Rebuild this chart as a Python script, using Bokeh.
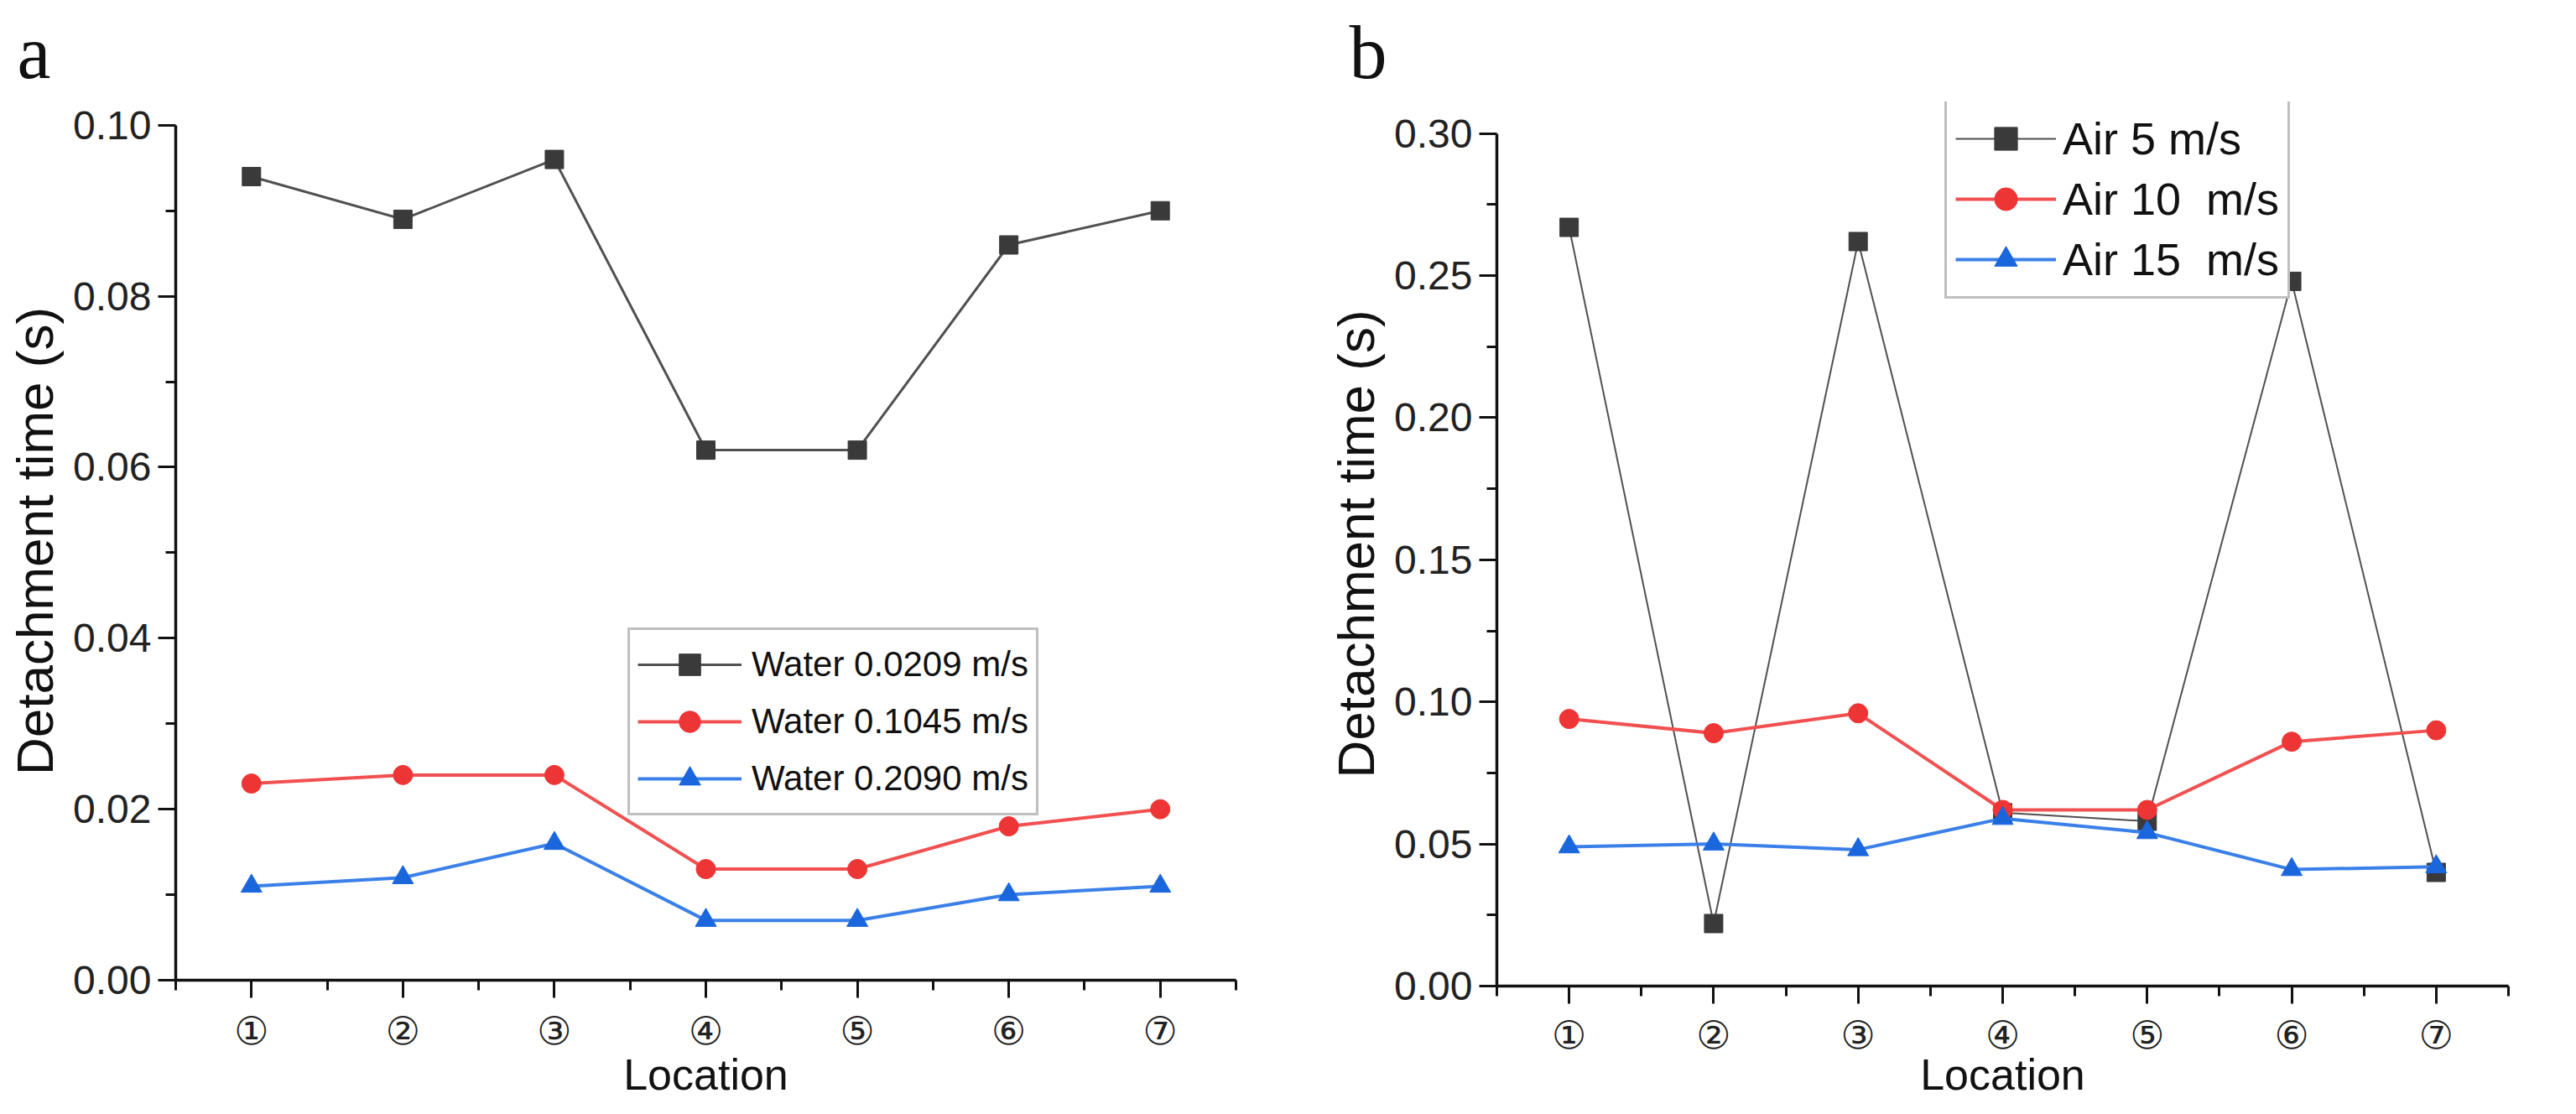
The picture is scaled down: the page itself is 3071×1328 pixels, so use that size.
from bokeh.plotting import figure
from bokeh.models import (FixedTicker, NumeralTickFormatter, Range1d, Legend,
                          LegendItem)
from bokeh.layouts import row
from bokeh.embed import file_html
from bokeh.resources import INLINE

# ---------------- data ----------------
locations = [1, 2, 3, 4, 5, 6, 7]
loc_labels = ["①", "②", "③", "④", "⑤", "⑥", "⑦"]

water_names = ["Water 0.0209 m/s", "Water 0.1045 m/s", "Water 0.2090 m/s"]
water_0209 = [0.094, 0.089, 0.096, 0.062, 0.062, 0.086, 0.090]
water_1045 = [0.023, 0.024, 0.024, 0.013, 0.013, 0.018, 0.020]
water_2090 = [0.011, 0.012, 0.016, 0.007, 0.007, 0.010, 0.011]

air_names = ["Air 5 m/s", "Air 10  m/s", "Air 15  m/s"]
air_5 = [0.267, 0.022, 0.262, 0.061, 0.058, 0.248, 0.040]
air_10 = [0.094, 0.089, 0.096, 0.062, 0.062, 0.086, 0.090]
air_15 = [0.049, 0.050, 0.048, 0.059, 0.054, 0.041, 0.042]

a_yticks = [0.0, 0.02, 0.04, 0.06, 0.08, 0.10]
a_yminor = [0.01, 0.03, 0.05, 0.07, 0.09]
b_yticks = [0.0, 0.05, 0.10, 0.15, 0.20, 0.25, 0.30]
b_yminor = [0.025, 0.075, 0.125, 0.175, 0.225, 0.275]
x_minor = [0.5, 1.5, 2.5, 3.5, 4.5, 5.5, 6.5, 7.5]

# ---------------- style ----------------
SANS = "Liberation Sans"
CIRC = "DejaVu Sans"
line_colors = ["#505050", "#f25050", "#3a80e8"]
marker_colors = ["#3a3a3a", "#ee3535", "#1a66dd"]
markers = ["square", "circle", "triangle"]
marker_sizes = [22, 23, 25]


def make_panel(width, height, borders, yend, ybound, yticks, yminor, series,
               names, leg, letter, letter_offset, letter_standoff,
               black_width, xlab_standoff, xtitle_standoff):
    left, right, top, bottom = borders
    p = figure(width=width, height=height, output_backend="svg",
               toolbar_location=None, x_range=Range1d(0.5, 7.5),
               y_range=Range1d(0, yend),
               min_border_left=left, min_border_right=right,
               min_border_top=top, min_border_bottom=bottom)
    try:
        p.frame_align = False
    except Exception:
        pass
    p.outline_line_color = None
    p.grid.visible = False
    p.background_fill_color = "white"
    p.border_fill_color = "white"

    p.title.text = letter
    p.title.align = "left"
    p.title.offset = letter_offset
    p.title.standoff = letter_standoff
    p.title.text_font = "Liberation Serif"
    p.title.text_font_size = "90px"
    p.title.text_font_style = "normal"
    p.title.text_color = "#111111"

    xa = p.xaxis[0]
    xa.ticker = FixedTicker(ticks=locations, minor_ticks=x_minor)
    xa.major_label_overrides = {k: v for k, v in zip(locations, loc_labels)}
    xa.major_label_text_font = CIRC
    xa.major_label_text_font_size = "46px"
    xa.major_label_standoff = xlab_standoff
    xa.axis_label = "Location"
    xa.axis_label_standoff = xtitle_standoff

    ya = p.yaxis[0]
    ya.ticker = FixedTicker(ticks=yticks, minor_ticks=yminor)
    ya.formatter = NumeralTickFormatter(format="0.00")
    ya.major_label_text_font = SANS
    ya.major_label_text_font_size = "48px"
    ya.major_label_standoff = 8
    ya.axis_label = "Detachment time (s)"
    ya.axis_label_standoff = 8
    ya.bounds = (0, ybound)

    for ax in (xa, ya):
        ax.axis_line_width = 3.5
        ax.axis_line_color = "#111111"
        ax.major_tick_line_width = 3
        ax.minor_tick_line_width = 3
        ax.major_tick_line_color = "#111111"
        ax.minor_tick_line_color = "#111111"
        ax.major_tick_out = 21
        ax.major_tick_in = 0
        ax.minor_tick_out = 12
        ax.minor_tick_in = 0
        ax.major_label_text_color = "#222222"
        ax.axis_label_text_font = SANS
        ax.axis_label_text_font_style = "normal"
        ax.axis_label_text_color = "#111111"
    xa.axis_label_text_font_size = "52px"
    ya.axis_label_text_font_size = "62px"

    items = []
    for i, (ys, name) in enumerate(zip(series, names)):
        lw = black_width if i == 0 else 4
        r1 = p.line(locations, ys, line_color=line_colors[i], line_width=lw)
        r2 = p.scatter(locations, ys, marker=markers[i], size=marker_sizes[i],
                       fill_color=marker_colors[i], line_color=marker_colors[i])
        items.append(LegendItem(label=name, renderers=[r1, r2]))

    legend = Legend(items=items, location=leg["xy"],
                    label_text_font=SANS, label_text_font_size=leg["font"],
                    label_text_color="#111111",
                    glyph_width=leg["gw"], glyph_height=leg["rh"],
                    label_height=leg["rh"], label_standoff=leg["standoff"],
                    spacing=4, padding=leg["pad"],
                    border_line_color="#808080", border_line_width=3,
                    background_fill_color="white", background_fill_alpha=1.0)
    p.add_layout(legend, "center")
    return p


leg_a = dict(xy=(539, 196), font="42px", gw=124, rh=64, standoff=12, pad=9)
leg_b = dict(xy=(534, 819), font="54px", gw=120, rh=68, standoff=8, pad=10)

pa = make_panel(1540, 1312, (209, 67, 120, 138), 0.10273, 0.10,
                a_yticks, a_yminor, [water_0209, water_1045, water_2090],
                water_names, leg_a, "a", -189, 20, 3, 12, -7)
pb = make_panel(1506, 1312, (244, 56, 120, 130), 0.31114, 0.30,
                b_yticks, b_yminor, [air_5, air_10, air_15],
                air_names, leg_b, "b", -176, 20, 2, 10, -12)

layout = row(pa, pb)
open("out.html", "w").write(file_html(layout, INLINE))
